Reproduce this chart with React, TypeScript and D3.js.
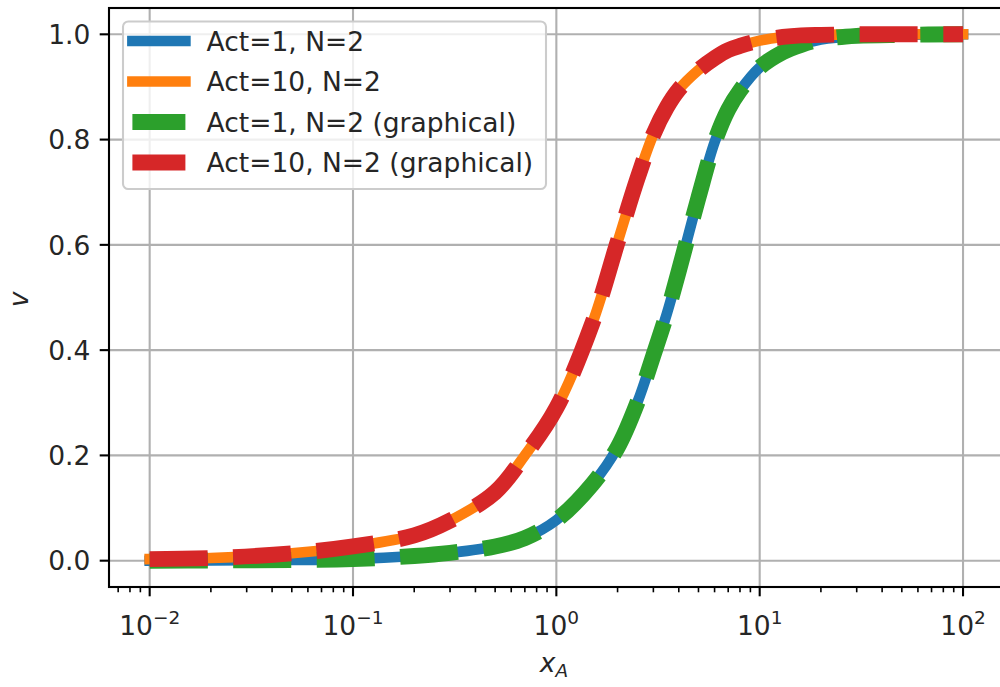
import * as d3 from "d3";
import { useEffect, useRef } from "react";

// concentrations x_A (log axis)
const X_VALUES = [
	0.01, 0.02, 0.05, 0.1, 0.2, 0.3, 0.5, 0.7, 1, 1.5, 2, 2.5, 3, 3.5, 4, 5, 6,
	7, 8, 10, 13, 16, 20, 30, 50, 100,
];
// response v, Act=1, N=2
const V_ACT1 = [
	0.0, 0.0005, 0.0012, 0.003, 0.009, 0.015, 0.027, 0.043, 0.077, 0.145, 0.215,
	0.3, 0.39, 0.47, 0.55, 0.69, 0.795, 0.857, 0.893, 0.937, 0.966, 0.98, 0.99,
	0.997, 0.999, 1.0,
];
// response v, Act=10, N=2
const V_ACT10 = [
	0.003, 0.005, 0.014, 0.027, 0.048, 0.076, 0.13, 0.2, 0.29, 0.45, 0.605,
	0.725, 0.81, 0.862, 0.895, 0.932, 0.955, 0.97, 0.978, 0.988, 0.995, 0.998,
	0.999, 1.0, 1.0, 1.0,
];

const SERIES_LABELS = [
	"Act=1, N=2",
	"Act=10, N=2",
	"Act=1, N=2 (graphical)",
	"Act=10, N=2 (graphical)",
];
const SERIES_VALUES = [V_ACT1, V_ACT10, V_ACT1, V_ACT10];
const SERIES_COLORS = ["#1f77b4", "#ff7f0e", "#2ca02c", "#d62728"];
const SERIES_DASHED = [false, false, true, true];

const Y_TICKS = [0, 0.2, 0.4, 0.6, 0.8, 1.0];
const X_TICKS = [0.01, 0.1, 1, 10, 100];
const X_TICK_EXP = ["\u22122", "\u22121", "0", "1", "2"];

const FONT = "DejaVu Sans, sans-serif";
const FS = 26.5;

const Chart = () => {
	const svgRef = useRef(null);
	const width = 1000;
	const height = 687;

	useEffect(() => {
		const left = 109;
		const right = 1003.7;
		const top = 8;
		const bottom = 587;

		const xScale = d3
			.scaleLog()
			.domain([Math.pow(10, -2.2), Math.pow(10, 2.2)])
			.range([left, right]);
		const yScale = d3.scaleLinear().domain([-0.05, 1.05]).range([bottom, top]);

		const svg = d3.select(svgRef.current);
		svg.selectAll("*").remove();
		svg.style("background", "#fff");

		svg.append("defs")
			.append("clipPath")
			.attr("id", "plot-clip")
			.append("rect")
			.attr("x", left)
			.attr("y", top)
			.attr("width", right - left)
			.attr("height", bottom - top);

		// grid
		const grid = svg.append("g");
		X_TICKS.forEach((t) => {
			grid.append("line")
				.attr("x1", xScale(t))
				.attr("x2", xScale(t))
				.attr("y1", top)
				.attr("y2", bottom)
				.attr("stroke", "#b0b0b0")
				.attr("stroke-width", 2.1);
		});
		Y_TICKS.forEach((t) => {
			grid.append("line")
				.attr("x1", left)
				.attr("x2", right)
				.attr("y1", yScale(t))
				.attr("y2", yScale(t))
				.attr("stroke", "#b0b0b0")
				.attr("stroke-width", 2.1);
		});

		// curves
		const line = d3
			.line()
			.x((d) => xScale(d[0]))
			.y((d) => yScale(d[1]))
			.curve(d3.curveCatmullRom.alpha(0.5));

		const plot = svg.append("g").attr("clip-path", "url(#plot-clip)");
		SERIES_VALUES.forEach((vals, i) => {
			const pts = X_VALUES.map((x, j) => [x, vals[j]]);
			plot.append("path")
				.attr("d", line(pts))
				.attr("fill", "none")
				.attr("stroke", SERIES_COLORS[i])
				.attr("stroke-width", SERIES_DASHED[i] ? 15.9 : 10.6)
				.attr("stroke-linecap", SERIES_DASHED[i] ? "butt" : "square")
				.attr("stroke-linejoin", "round")
				.attr("stroke-dasharray", SERIES_DASHED[i] ? "58,25.5" : null);
		});

		// spines
		svg.append("rect")
			.attr("x", left)
			.attr("y", top)
			.attr("width", right - left)
			.attr("height", bottom - top)
			.attr("fill", "none")
			.attr("stroke", "#000")
			.attr("stroke-width", 2.1);

		// y ticks
		const yAxis = svg.append("g");
		Y_TICKS.forEach((t) => {
			const y = yScale(t);
			yAxis.append("line")
				.attr("x1", left - 9.3)
				.attr("x2", left)
				.attr("y1", y)
				.attr("y2", y)
				.attr("stroke", "#000")
				.attr("stroke-width", 2.1);
			yAxis.append("text")
				.attr("x", left - 18.6)
				.attr("y", y + 9.8)
				.attr("text-anchor", "end")
				.attr("font-family", FONT)
				.attr("font-size", FS)
				.attr("fill", "#262626")
				.text(t.toFixed(1));
		});

		// x ticks, major and minor
		const xAxis = svg.append("g");
		const [d0, d1] = xScale.domain();
		for (let e = -3; e <= 2; e++) {
			for (let m = 2; m <= 9; m++) {
				const v = m * Math.pow(10, e);
				if (v < d0 || v > d1) continue;
				xAxis.append("line")
					.attr("x1", xScale(v))
					.attr("x2", xScale(v))
					.attr("y1", bottom)
					.attr("y2", bottom + 5.3)
					.attr("stroke", "#000")
					.attr("stroke-width", 1.6);
			}
		}
		X_TICKS.forEach((t, i) => {
			const x = xScale(t);
			xAxis.append("line")
				.attr("x1", x)
				.attr("x2", x)
				.attr("y1", bottom)
				.attr("y2", bottom + 9.3)
				.attr("stroke", "#000")
				.attr("stroke-width", 2.1);
			const label = xAxis
				.append("text")
				.attr("x", x)
				.attr("y", 635)
				.attr("text-anchor", "middle")
				.attr("font-family", FONT)
				.attr("font-size", FS)
				.attr("fill", "#262626");
			label.append("tspan").text("10");
			label.append("tspan")
				.attr("font-size", 18.5)
				.attr("dy", -11.5)
				.text(X_TICK_EXP[i]);
		});

		// axis labels
		const xl = svg
			.append("text")
			.attr("x", 554)
			.attr("y", 672)
			.attr("text-anchor", "middle")
			.attr("font-family", FONT)
			.attr("font-size", FS)
			.attr("font-style", "italic")
			.attr("fill", "#262626");
		xl.append("tspan").text("x");
		xl.append("tspan").attr("font-size", 18.5).attr("dy", 5).text("A");

		svg.append("text")
			.attr("transform", "translate(28, 299.5) rotate(-90)")
			.attr("text-anchor", "middle")
			.attr("font-family", FONT)
			.attr("font-size", FS)
			.attr("font-style", "italic")
			.attr("fill", "#262626")
			.text("v");

		// legend
		const lg = svg.append("g");
		lg.append("rect")
			.attr("x", 123)
			.attr("y", 21.5)
			.attr("width", 423)
			.attr("height", 167.5)
			.attr("rx", 5.3)
			.attr("fill", "rgba(255,255,255,0.8)")
			.attr("stroke", "#cccccc")
			.attr("stroke-width", 2.1);
		const rowY = [41, 81.5, 122, 162.5];
		SERIES_LABELS.forEach((label, i) => {
			lg.append("line")
				.attr("x1", 132.4)
				.attr("x2", 185.4)
				.attr("y1", rowY[i])
				.attr("y2", rowY[i])
				.attr("stroke", SERIES_COLORS[i])
				.attr("stroke-width", SERIES_DASHED[i] ? 15.9 : 10.6)
				.attr("stroke-linecap", SERIES_DASHED[i] ? "butt" : "square");
			lg.append("text")
				.attr("x", 206.6)
				.attr("y", rowY[i] + 9.8)
				.attr("font-family", FONT)
				.attr("font-size", FS)
				.attr("fill", "#262626")
				.text(label);
		});
	}, []);

	return (
		<svg
			ref={svgRef}
			width={width}
			height={height}
			style={{ position: "absolute", left: 0, top: 0, display: "block" }}
		/>
	);
};

export default function App() {
	return <Chart />;
}
